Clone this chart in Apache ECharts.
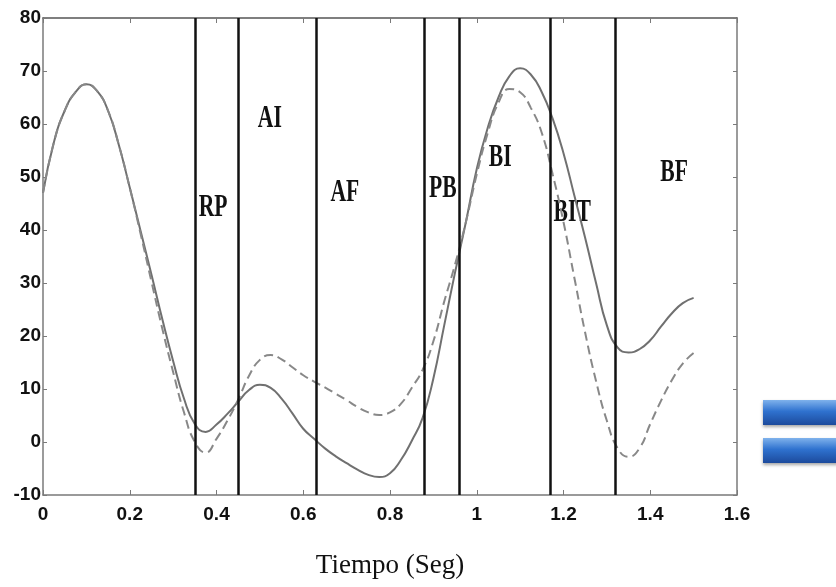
<!DOCTYPE html>
<html>
<head>
<meta charset="utf-8">
<script src="https://cdn.jsdelivr.net/npm/echarts@6/dist/echarts.min.js"></script>
<style>
  html, body { margin: 0; padding: 0; background: #fff; }
  #chart { width: 836px; height: 587px; }
</style>
</head>
<body>
<div id="chart"></div>
<script>
  // tiempo (seg)
  var tiempo = [0, 0.025, 0.05, 0.075, 0.1, 0.125, 0.15, 0.175, 0.2, 0.225, 0.25, 0.275, 0.3, 0.325, 0.35, 0.375, 0.4,
    0.425, 0.45, 0.475, 0.5, 0.525, 0.55, 0.575, 0.6, 0.625, 0.65, 0.675, 0.7, 0.725, 0.75, 0.775, 0.8, 0.825, 0.85,
    0.875, 0.9, 0.925, 0.95, 0.975, 1.0, 1.025, 1.05, 1.075, 1.1, 1.125, 1.15, 1.175, 1.2, 1.225, 1.25, 1.275, 1.3,
    1.325, 1.35, 1.375, 1.4, 1.425, 1.45, 1.475, 1.5];
  // curva continua
  var curvaA = [47, 56.5, 62.5, 66, 67.5, 66.2, 62.5, 56, 48, 39.8, 31.6, 23.2, 15.3, 8.2, 3.4, 1.9, 3.3,
    5.3, 7.6, 9.8, 10.8, 10.2, 8.2, 5.4, 2.5, 0.6, -1.2, -2.7, -4, -5.2, -6.2, -6.6, -5.9, -3.4, 0.2,
    4.5, 12, 22, 32, 41.5, 51.5, 59.2, 65, 69, 70.5, 69.3, 66, 61, 54.5, 46.5, 38.5, 30, 22,
    17.8, 16.9, 17.5, 19.2, 21.8, 24.3, 26.2, 27.2];
  // curva discontinua
  var curvaB = [47, 56.5, 62.5, 66, 67.5, 66.2, 62.5, 56, 48, 39.3, 30.3, 21.4, 13.2, 5.6, 0, -2, 0.6,
    4, 8, 12.5, 15.5, 16.4, 15.6, 14.1, 12.6, 11.4, 10.3, 9.1, 7.9, 6.6, 5.6, 5.1, 5.6, 7.2, 10.2,
    13.6, 19, 26.5, 33.5, 41.5, 50.5, 58.2, 64, 66.6, 66, 63, 58.3, 50.5, 41.5, 31, 20.6, 11.5, 4,
    -1.2, -2.8, -1.2, 3.4, 7.8, 11.7, 14.8, 16.8];
  // limites de fases
  var limites = [0.348, 0.447, 0.629, 0.881, 0.964, 1.171, 1.323];
  var fases = ['RP', 'AI', 'AF', 'PB', 'BI', 'BIT', 'BF'];
  var faseX = [0.392, 0.523, 0.696, 0.922, 1.054, 1.22, 1.455];
  var faseY = [44.2, 61.1, 47, 47.9, 53.6, 43.2, 50.9];

  var serieA = tiempo.map(function (t, i) { return [t, curvaA[i]]; });
  var serieB = tiempo.map(function (t, i) { return [t, curvaB[i]]; });

  var axisGray = '#7a7a7a';
  var labelFont = { color: '#111', fontFamily: 'Liberation Sans', fontWeight: 'bold', fontSize: 19 };

  function barraAzul(top) {
    return {
      type: 'rect', left: 763, top: top, shape: { width: 80, height: 25 },
      style: {
        fill: new echarts.graphic.LinearGradient(0, 0, 0, 1, [
          { offset: 0, color: '#7fb2ec' }, { offset: 0.45, color: '#2f72cf' }, { offset: 1, color: '#1c4a9c' }
        ]),
        shadowBlur: 3, shadowColor: 'rgba(0,0,0,0.35)', shadowOffsetY: 2
      }
    };
  }

  var myChart = echarts.init(document.getElementById('chart'));
  myChart.setOption({
    backgroundColor: '#fff',
    animation: false,
    grid: { left: 43, right: 99, top: 18, bottom: 92 },
    xAxis: [{
      type: 'value', min: 0, max: 1.6, interval: 0.2,
      name: 'Tiempo (Seg)', nameLocation: 'middle', nameGap: 57,
      nameTextStyle: { fontFamily: 'Liberation Serif', fontSize: 27, color: '#111' },
      axisLine: { onZero: false, lineStyle: { color: axisGray, width: 1.5 } },
      axisTick: { inside: true, length: 5, lineStyle: { color: axisGray } },
      axisLabel: Object.assign({ margin: 10 }, labelFont),
      splitLine: { show: false }
    }, {
      type: 'value', min: 0, max: 1.6, interval: 0.2, position: 'top',
      axisLine: { show: true, onZero: false, lineStyle: { color: '#555', width: 1.5 } },
      axisTick: { inside: true, length: 5, lineStyle: { color: axisGray } },
      axisLabel: { show: false },
      splitLine: { show: false }
    }],
    yAxis: [{
      type: 'value', min: -10, max: 80, interval: 10,
      axisLine: { show: true, onZero: false, lineStyle: { color: axisGray, width: 1.5 } },
      axisTick: { show: true, inside: true, length: 4, lineStyle: { color: axisGray } },
      axisLabel: Object.assign({ margin: 2 }, labelFont),
      splitLine: { show: false }
    }, {
      type: 'value', min: -10, max: 80, interval: 10, position: 'right',
      axisLine: { show: true, onZero: false, lineStyle: { color: axisGray, width: 1.5 } },
      axisTick: { show: true, inside: true, length: 4, lineStyle: { color: axisGray } },
      axisLabel: { show: false },
      splitLine: { show: false }
    }],
    series: [
      {
        type: 'line', data: serieA, smooth: 0.5, smoothMonotone: 'none', symbol: 'none',
        lineStyle: { color: '#707070', width: 2 },
        markLine: {
          silent: true, symbol: 'none', label: { show: false },
          lineStyle: { color: '#111', width: 2.5, type: 'solid' },
          data: limites.map(function (v) { return { xAxis: v }; })
        }
      },
      {
        type: 'line', data: serieB, smooth: 0.5, smoothMonotone: 'none', symbol: 'none',
        lineStyle: { color: '#888', width: 2, type: [9, 5] }
      }
    ],
    graphic: [barraAzul(400), barraAzul(438)]
  });

  // etiquetas de fase, ubicadas con la escala del grafico
  var etiquetas = fases.map(function (f, i) {
    var p = myChart.convertToPixel({ gridIndex: 0 }, [faseX[i], faseY[i]]);
    return {
      type: 'text', x: p[0], y: p[1], scaleX: 0.9, scaleY: 1.35, silent: true,
      style: {
        text: f, align: 'center', verticalAlign: 'middle',
        font: 'bold 24px "Liberation Serif"', fill: '#111'
      }
    };
  });
  myChart.setOption({ graphic: [barraAzul(400), barraAzul(438)].concat(etiquetas) });
</script>
</body>
</html>
